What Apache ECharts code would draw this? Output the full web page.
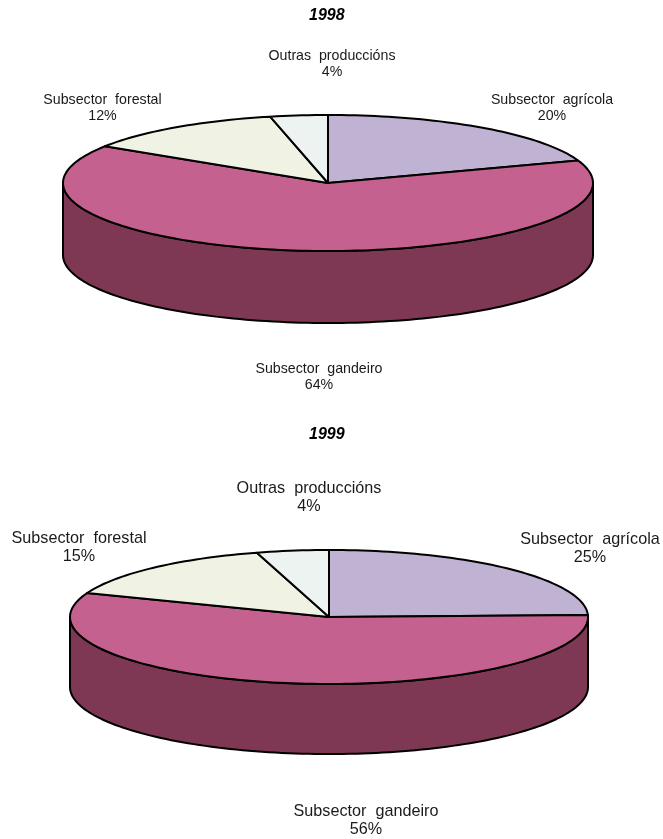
<!DOCTYPE html>
<html><head><meta charset="utf-8">
<style>html,body{margin:0;padding:0;background:#fff}#c{width:663px;height:839px}</style>
<script src="https://cdn.jsdelivr.net/npm/echarts@6/dist/echarts.min.js"></script>
</head><body><div id="c"></div>
<script>
// Data (shares; labels show them rounded)
const labelNames = ['Subsector  agrícola', 'Subsector  gandeiro', 'Subsector  forestal', 'Outras  produccións'];
const values1998 = [19.6, 64.4, 12.4, 3.5];
const values1999 = [24.5, 56.3, 14.7, 4.49];
const years = ['1998', '1999'];
// Styles
const topColors = ['#C0B2D3', '#C5618E', '#F0F3E4', '#EDF3F1'];
const wallColors = ['#8E85A0', '#7F3853', '#B4B6AA', '#B2B6B4'];
// Layout
const layouts = [
  {cx: 328, cy: 183, rx: 265, ry: 68, depth: 72, font: 14.2, lh: 16, titleY: 16,
   labels: [[552, 100], [319, 369], [102.5, 100], [332, 56]]},
  {cx: 329, cy: 617, rx: 259, ry: 67, depth: 70, font: 16.2, lh: 18, titleY: 435,
   labels: [[590, 540], [366, 812], [79, 539], [309, 489]]}
];
const titleCenterX = 322;

function pt(l, deg, dy) {
  const a = deg * Math.PI / 180;
  return [l.cx + l.rx * Math.sin(a), l.cy - l.ry * Math.cos(a) + (dy || 0)];
}
function arc(l, from, to, dy) {
  const n = Math.max(2, Math.ceil(Math.abs(to - from) / 1.5));
  const out = [];
  for (let i = 0; i <= n; i++) out.push(pt(l, from + (to - from) * i / n, dy));
  return out;
}
function pieSeries(values, l) {
  const total = values.reduce((a, b) => a + b, 0);
  let acc = 0;
  const rows = values.map((v, i) => {
    const s = acc / total * 360; acc += v;
    return [i, v, s, acc / total * 360];
  });
  return {
    type: 'custom',
    coordinateSystem: 'none',
    silent: true,
    animation: false,
    clip: false,
    data: rows,
    renderItem: function (params, api) {
      const i = api.value(0), v = api.value(1), s = api.value(2), e = api.value(3);
      const children = [];
      const line = {stroke: '#000', lineWidth: 2, lineJoin: 'round'};
      const ws = Math.max(s, 90), we = Math.min(e, 270);
      if (we > ws) {
        const front = arc(l, ws, we, 0);
        const back = arc(l, we, ws, l.depth);
        children.push({type: 'polygon', z2: 1, shape: {points: front.concat(back)},
          style: Object.assign({fill: wallColors[i]}, line)});
      }
      children.push({type: 'polygon', z2: 2,
        shape: {points: [[l.cx, l.cy]].concat(arc(l, s, e, 0))},
        style: Object.assign({fill: topColors[i]}, line)});
      const p = l.labels[i];
      children.push({type: 'text', z2: 3, x: p[0], y: p[1] - l.lh / 2,
        style: {text: labelNames[i] + '\n' + Math.round(v) + '%', fill: '#1a1a1a',
          font: l.font + 'px "Liberation Sans"', lineHeight: l.lh, align: 'center', verticalAlign: 'top'}});
      return {type: 'group', children: children};
    }
  };
}
const chart = echarts.init(document.getElementById('c'), null, {renderer: 'canvas'});
chart.setOption({
  backgroundColor: '#fff',
  animation: false,
  title: years.map((y, k) => ({
    text: y, left: titleCenterX - 18, top: layouts[k].titleY - 13, padding: 5,
    textStyle: {fontFamily: 'Liberation Sans', fontSize: 16, fontWeight: 'bold', fontStyle: 'italic', color: '#000'}
  })),
  series: [pieSeries(values1998, layouts[0]), pieSeries(values1999, layouts[1])]
});
</script></body></html>
